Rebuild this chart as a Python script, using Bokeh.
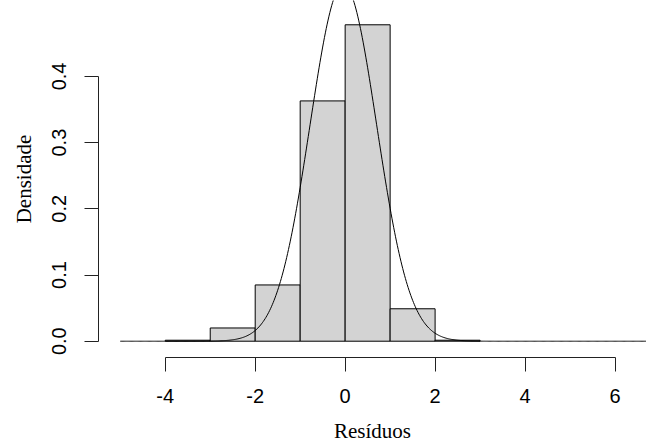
import numpy as np
from bokeh.plotting import figure
from bokeh.models import Range1d, FixedTicker, PrintfTickFormatter
from bokeh.embed import file_html
from bokeh.resources import INLINE

# Histogram of residuals (density scale), unit-width bins
bin_left = [-4, -3, -2, -1, 0, 1, 2]
bin_right = [-3, -2, -1, 0, 1, 2, 3]
density = [0.0015, 0.020, 0.085, 0.363, 0.478, 0.049, 0.0015]

# Fitted normal curve parameters
mu = -0.04
sigma = 0.74
curve_from, curve_to = -5, 7

x_ticks = [-4, -2, 0, 2, 4, 6]
x_tick_labels = ["-4", "-2", "0", "2", "4", "6"]
y_ticks = [0.0, 0.1, 0.2, 0.3, 0.4]

W, H = 646, 446
p = figure(width=W, height=H, output_backend="svg", toolbar_location=None,
           x_range=Range1d(-5.484, 6.7), y_range=Range1d(-0.0246, 0.5147),
           min_border_left=98, min_border_bottom=89, min_border_top=0,
           min_border_right=0)
p.outline_line_color = None
p.xgrid.visible = False
p.ygrid.visible = False
p.background_fill_color = "white"
p.border_fill_color = "white"

p.quad(left=bin_left, right=bin_right, bottom=0, top=density,
       fill_color="#D3D3D3", line_color="black", line_width=1)

xs = np.linspace(curve_from, curve_to, 601)
ys = np.exp(-0.5 * ((xs - mu) / sigma) ** 2) / (sigma * np.sqrt(2 * np.pi))
p.line(xs, ys, line_color="black", line_width=1)

tick_font = "Liberation Sans"
label_font = "Liberation Serif"

for ax in (p.xaxis[0], p.yaxis[0]):
    ax.major_tick_out = 14
    ax.major_tick_in = 0
    ax.minor_tick_out = 0
    ax.minor_tick_in = 0
    ax.axis_line_color = "#222222"
    ax.major_tick_line_color = "#222222"
    ax.major_label_text_font = tick_font
    ax.major_label_text_font_size = "20px"
    ax.major_label_text_color = "black"
    ax.axis_label_text_font = label_font
    ax.axis_label_text_font_size = "21px"
    ax.axis_label_text_font_style = "normal"
    ax.axis_label_text_color = "black"

p.xaxis.ticker = FixedTicker(ticks=x_ticks)
p.xaxis.major_label_overrides = {t: s for t, s in zip(x_ticks, x_tick_labels)}
p.xaxis.bounds = (x_ticks[0], x_ticks[-1])
p.xaxis.major_label_standoff = 17
p.xaxis.axis_label = "Resíduos"
p.xaxis.axis_label_standoff = 13

p.yaxis.ticker = FixedTicker(ticks=y_ticks)
p.yaxis.bounds = (y_ticks[0], y_ticks[-1])
p.yaxis.formatter = PrintfTickFormatter(format="%.1f")
p.yaxis.major_label_orientation = "vertical"
p.yaxis.major_label_standoff = 18
p.yaxis.axis_label = "Densidade"
p.yaxis.axis_label_standoff = 14

open("out.html", "w").write(file_html(p, INLINE))
